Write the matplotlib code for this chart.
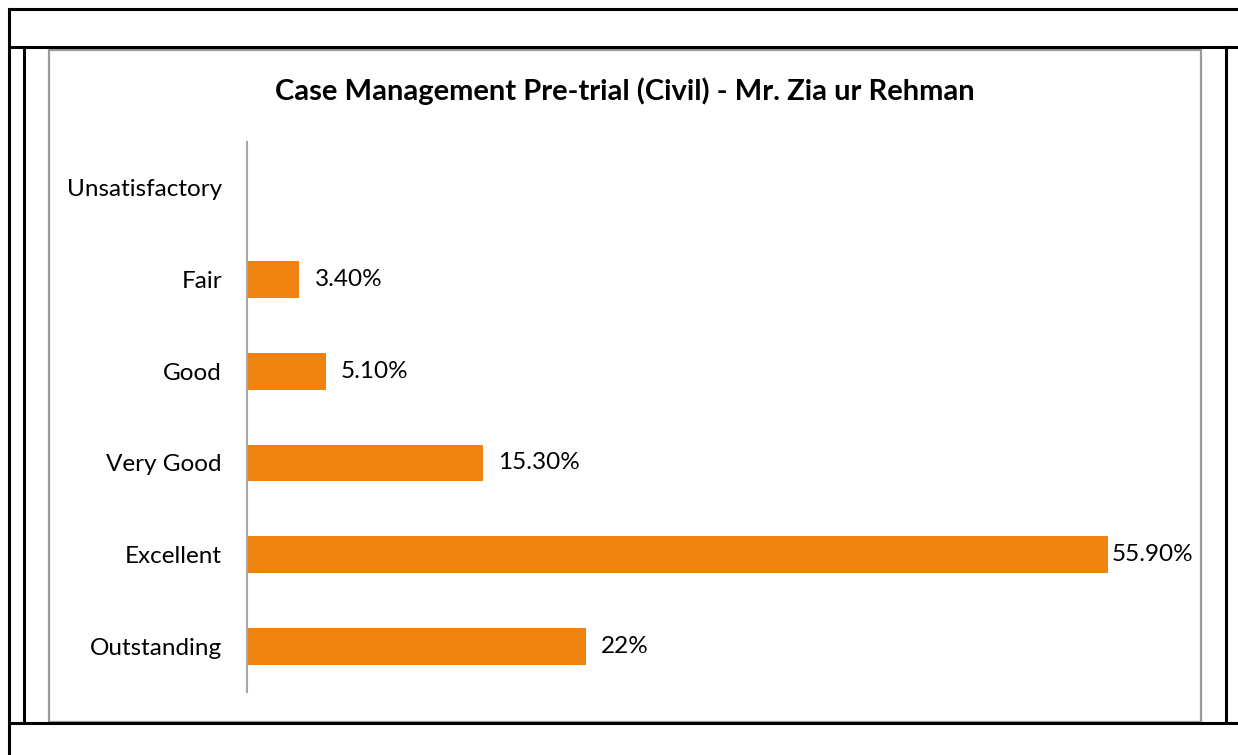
import matplotlib
matplotlib.use("Agg")
import matplotlib.pyplot as plt
from matplotlib.lines import Line2D
from matplotlib.patches import Rectangle

# chart data
categories = ["Unsatisfactory", "Fair", "Good", "Very Good", "Excellent", "Outstanding"]
percentages = [0, 3.4, 5.1, 15.3, 55.9, 22]
value_labels = ["", "3.40%", "5.10%", "15.30%", "55.90%", "22%"]

W, H = 1238, 755
plt.rcParams['font.family'] = ['Lato', 'DejaVu Sans']

fig = plt.figure(figsize=(W / 100, H / 100), dpi=100)


def fx(px):
    return px / W


def fy(py):
    return 1 - py / H


# table borders around the chart (black lines)
for (x0, y0, x1, y1) in [
    (9, 9, W, 9),
    (9, 9, 9, H),
    (9, 47, W, 47),
    (24, 47, 24, 723),
    (1226, 47, 1226, 723),
    (9, 723, W, 723),
]:
    fig.add_artist(Line2D([fx(x0), fx(x1)], [fy(y0), fy(y1)], color="black", lw=2.2))

# gray chart frame
fig.add_artist(Rectangle((fx(49), fy(722)), fx(1201) - fx(49), fy(50) - fy(722),
                         transform=fig.transFigure, fill=False,
                         edgecolor="#9a9a9a", lw=1.6))

fig.text(fx(625), fy(91), "Case Management Pre-trial (Civil) - Mr. Zia ur Rehman",
         ha="center", va="center", fontsize=21, fontweight="bold", color="black")

xmax = 60
ax = fig.add_axes([fx(247), fy(692), fx(xmax * 15.4), fy(142) - fy(692)])
ypos = list(range(len(categories)))
ax.barh(ypos, percentages, height=0.4, color="#F0820F")

# data labels; the longest one sits tight against its bar like in Excel
for y, v, lab in zip(ypos, percentages, value_labels):
    if not lab:
        continue
    pad = 3 if v == max(percentages) else 11
    ax.annotate(lab, (v, y), xytext=(pad, 0), textcoords="offset points",
                ha="left", va="center", fontsize=17.5, color="black")

ax.set_xlim(0, xmax)
ax.set_ylim(len(categories) - 0.5, -0.5)
ax.set_yticks(ypos)
ax.set_yticklabels(categories, fontsize=17.5)
ax.tick_params(axis="y", length=0, pad=18)
ax.set_xticks([])
for side in ["top", "right", "bottom"]:
    ax.spines[side].set_visible(False)
ax.spines["left"].set_color("#a6a6a6")
ax.spines["left"].set_linewidth(1.5)
ax.patch.set_alpha(0)

fig.savefig("out.png", dpi=100)
